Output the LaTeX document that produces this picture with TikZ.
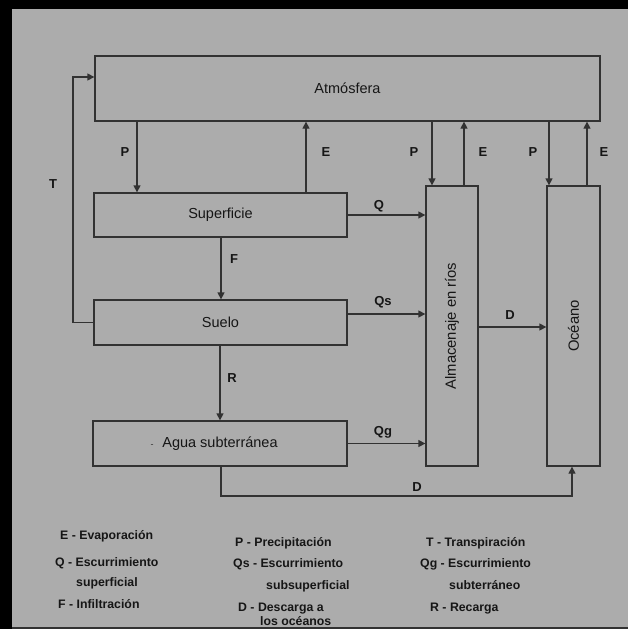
\documentclass[tikz,border=0pt]{standalone}
\usepackage{fontspec}
\setmainfont{Liberation Sans}
\usetikzlibrary{arrows.meta}
\definecolor{bg}{RGB}{172,172,172}
\definecolor{ln}{RGB}{50,50,50}
\definecolor{tx}{RGB}{22,22,22}
\begin{document}
\begin{tikzpicture}[x=1pt,y=-1pt,
  box/.style={draw=ln, line width=1.3pt, inner sep=0pt, text=tx, font=\fontsize{14.5}{14.5}\selectfont},
  flow/.style={draw=ln, line width=1.3pt, -{Triangle[length=7pt,width=7pt]}},
  lbl/.style={text=tx, font=\fontsize{13}{13}\selectfont\bfseries, inner sep=0pt},
  leg/.style={text=tx, font=\fontsize{12.3}{12.3}\selectfont\bfseries, inner sep=0pt, anchor=base west}]
\useasboundingbox (0,0) rectangle (628,629);
\fill[bg] (0,0) rectangle (628,629);
\clip (0,0) rectangle (628,629);
\fill[black] (0,0) rectangle (628,9);
\fill[black] (0,0) rectangle (12,629);

% boxes
\node[box, minimum width=505pt, minimum height=65pt] (atm) at (347.5,88.5) {Atmósfera};
\node[box, minimum width=253pt, minimum height=44pt] (sup) at (220.5,215) {Superficie};
\node[box, minimum width=253pt, minimum height=45pt] (sue) at (220.5,322.5) {Suelo};
\node[box, minimum width=254pt, minimum height=45pt] (agua) at (220,443.5) {Agua subterránea};
\node[font=\fontsize{9}{9}\selectfont, text=ln, inner sep=0pt] (dash) at (152,446) {-};
\node[box, minimum width=52pt, minimum height=280pt] (alm) at (452,326) {};
\node[text=tx, font=\fontsize{14.8}{14.8}\selectfont, rotate=90] (almt) at (alm.center) {Almacenaje en ríos};
\node[box, minimum width=53pt, minimum height=280pt] (oce) at (573.5,326) {};
\node[text=tx, font=\fontsize{14.8}{14.8}\selectfont, rotate=90] (ocet) at (oce.center) {Océano};

% connectors
\coordinate (tc) at (73,77);
\draw[flow] (sue.west) -| (tc) -- (atm.west |- tc);
\draw[flow] (atm.south -| 137,0) -- (sup.north -| 137,0);
\draw[flow] (sup.north -| 306,0) -- (atm.south -| 306,0);
\draw[flow] (sup.south -| 221,0) -- (sue.north -| 221,0);
\draw[flow] (sue.south -| 220,0) -- (agua.north -| 220,0);
\draw[flow] (sup.east) -- (alm.west |- sup.east);
\draw[flow] (sue.east |- 0,314) -- (alm.west |- 0,314);
\draw[flow] (agua.east) -- (alm.west |- agua.east);
\draw[flow] (atm.south -| 432,0) -- (alm.north -| 432,0);
\draw[flow] (alm.north -| 464,0) -- (atm.south -| 464,0);
\draw[flow] (atm.south -| 549,0) -- (oce.north -| 549,0);
\draw[flow] (oce.north -| 587,0) -- (atm.south -| 587,0);
\draw[flow] (alm.east |- 0,327) -- (oce.west |- 0,327);
\coordinate (dc) at (572,496);
\draw[flow] (agua.south -| 221,0) |- (dc) -- (oce.south -| dc);

% labels
\node[lbl] (lT) at (53,184) {T};
\node[lbl] (lP1) at (125,152) {P};
\node[lbl] (lE1) at (326,152) {E};
\node[lbl] (lP2) at (414,152) {P};
\node[lbl] (lE2) at (483,152) {E};
\node[lbl] (lP3) at (533,152) {P};
\node[lbl] (lE3) at (604,152) {E};
\node[lbl] (lQ) at (379,206) {Q};
\node[lbl] (lF) at (234,259) {F};
\node[lbl] (lQs) at (383,302) {Qs};
\node[lbl] (lR) at (232,378) {R};
\node[lbl] (lQg) at (383,432) {Qg};
\node[lbl] (lD1) at (510,315) {D};
\node[lbl] (lD2) at (417,487) {D};

% legend
\node[leg] (g1) at (60,539.5) {E - Evaporación};
\node[leg] (g2) at (55,566.5) {Q - Escurrimiento};
\node[leg] (g3) at (76,586.5) {superficial};
\node[leg] (g4) at (58,608.5) {F - Infiltración};
\node[leg] (g5) at (235,546.5) {P - Precipitación};
\node[leg] (g6) at (233,567.5) {Qs - Escurrimiento};
\node[leg] (g7) at (266,589.5) {subsuperficial};
\node[leg] (g8) at (238,611.5) {D - Descarga a};
\node[leg] (g9) at (260,625.5) {los océanos};
\node[leg] (g10) at (426,546.5) {T - Transpiración};
\node[leg] (g11) at (420,567.5) {Qg - Escurrimiento};
\node[leg] (g12) at (449,589.5) {subterráneo};
\node[leg] (g13) at (430,611.5) {R - Recarga};

\fill[ln] (12,627.3) rectangle (628,629);
\end{tikzpicture}
\end{document}
